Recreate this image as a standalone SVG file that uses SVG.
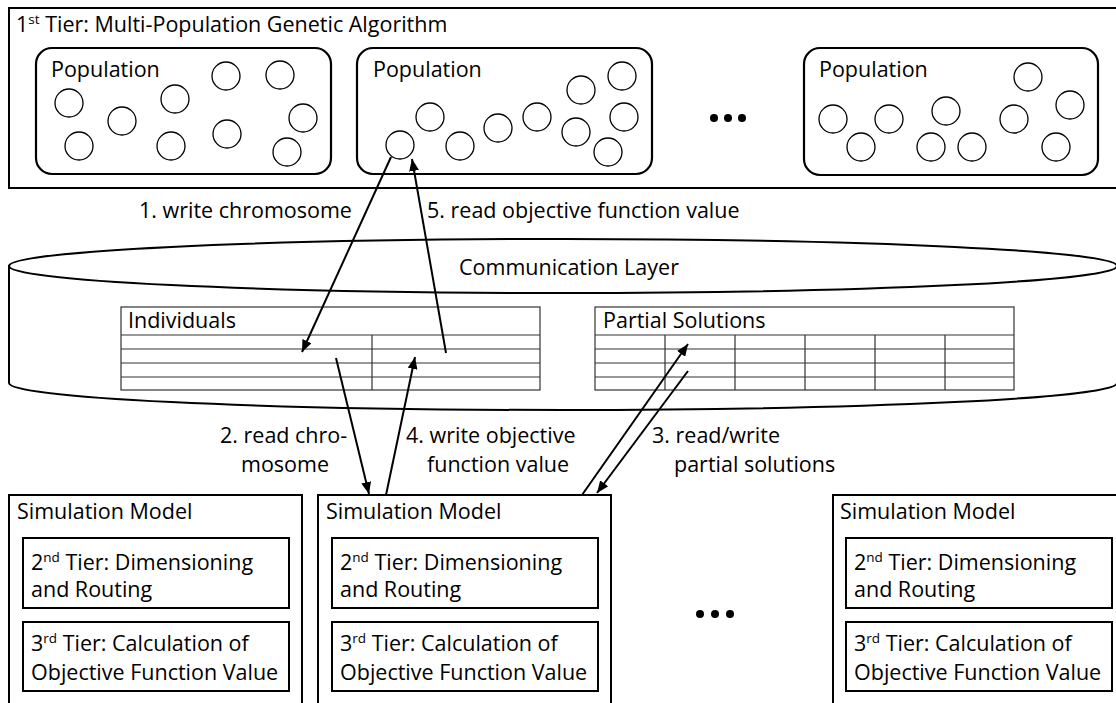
<svg xmlns="http://www.w3.org/2000/svg" width="1116" height="703" viewBox="0 0 1116 703">
<defs>
<marker id="ah" viewBox="0 0 12 10" refX="12" refY="5" markerWidth="12" markerHeight="10" markerUnits="userSpaceOnUse" orient="auto">
<path d="M0,0 L12,5 L0,10 z" fill="#000"/>
</marker>
</defs>
<style>
text{font-family:"Open Sans","Noto Sans","Liberation Sans",sans-serif;font-size:21.5px;fill:#000}
.box{fill:#fff;stroke:#000;stroke-width:2}
.pop{fill:none;stroke:#000;stroke-width:2.2}
.ind{fill:none;stroke:#000;stroke-width:1.3}
.tbl{fill:none;stroke:#333;stroke-width:1.2}
.cyl{fill:#fff;stroke:#000;stroke-width:2}
.con{fill:none;stroke:#000;stroke-width:2;marker-end:url(#ah)}
.sup{font-size:13.5px}
</style>
<rect width="1116" height="703" fill="#fff"/>

<g id="tier1">
<rect class="box" x="9" y="8" width="1112" height="180"/>
<text x="16" y="32">1<tspan class="sup" dy="-8">st</tspan><tspan dy="8"> Tier: Multi-Population Genetic Algorithm</tspan></text>
</g>

<g id="population1">
<rect class="pop" x="36" y="48" width="295" height="126" rx="16"/>
<text x="51" y="77">Population</text>
<circle class="ind" cx="69" cy="103" r="14"/>
<circle class="ind" cx="79" cy="146" r="14"/>
<circle class="ind" cx="122" cy="121" r="14"/>
<circle class="ind" cx="175" cy="99" r="14"/>
<circle class="ind" cx="171" cy="146" r="14"/>
<circle class="ind" cx="226" cy="76" r="14"/>
<circle class="ind" cx="227" cy="134" r="14"/>
<circle class="ind" cx="280" cy="75" r="14"/>
<circle class="ind" cx="303" cy="118" r="14"/>
<circle class="ind" cx="287" cy="152" r="14"/>
</g>

<g id="population2">
<rect class="pop" x="357" y="48" width="295" height="126" rx="16"/>
<text x="373" y="77">Population</text>
<circle class="ind" cx="400" cy="145" r="14"/>
<circle class="ind" cx="430" cy="117" r="14"/>
<circle class="ind" cx="460" cy="146" r="14"/>
<circle class="ind" cx="498" cy="128" r="14"/>
<circle class="ind" cx="537" cy="117" r="14"/>
<circle class="ind" cx="581" cy="90" r="14"/>
<circle class="ind" cx="622" cy="76" r="14"/>
<circle class="ind" cx="624" cy="117" r="14"/>
<circle class="ind" cx="576" cy="132" r="14"/>
<circle class="ind" cx="608" cy="152" r="14"/>
</g>

<g id="dots-top">
<circle cx="714" cy="118" r="4"/>
<circle cx="728" cy="118" r="4"/>
<circle cx="742" cy="118" r="4"/>
</g>

<g id="population3">
<rect class="pop" x="804" y="48" width="294" height="127" rx="16"/>
<text x="819" y="77">Population</text>
<circle class="ind" cx="833" cy="119" r="14"/>
<circle class="ind" cx="889" cy="119" r="14"/>
<circle class="ind" cx="861" cy="147" r="14"/>
<circle class="ind" cx="946" cy="111" r="14"/>
<circle class="ind" cx="931" cy="147" r="14"/>
<circle class="ind" cx="972" cy="147" r="14"/>
<circle class="ind" cx="1014" cy="119" r="14"/>
<circle class="ind" cx="1028" cy="77" r="14"/>
<circle class="ind" cx="1070" cy="105" r="14"/>
<circle class="ind" cx="1056" cy="147" r="14"/>
</g>

<g id="communication-layer">
<path class="cyl" d="M9,266 L9,383 A554,27 0 0 0 1117,383 L1117,266 Z"/>
<ellipse class="cyl" cx="563" cy="266" rx="554" ry="27"/>
<text x="459" y="275">Communication Layer</text>
</g>

<g id="individuals">
<rect class="tbl" x="121" y="307" width="419" height="83"/>
<text x="128" y="328">Individuals</text>
<path class="tbl" d="M121,335 H540 M121,349 H540 M121,363 H540 M121,377 H540 M372,335 V390"/>
</g>

<g id="partial-solutions">
<rect class="tbl" x="595" y="307" width="419" height="83"/>
<text x="603" y="328">Partial Solutions</text>
<path class="tbl" d="M595,335 H1014 M595,349 H1014 M595,363 H1014 M595,377 H1014 M665,335 V390 M735,335 V390 M805,335 V390 M875,335 V390 M945,335 V390"/>
</g>

<g id="sim1">
<rect class="box" x="9" y="495" width="293" height="222"/>
<text x="17" y="519">Simulation Model</text>
<rect class="box" x="23" y="538" width="266" height="70"/>
<text x="31" y="570">2<tspan class="sup" dy="-8">nd</tspan><tspan dy="8"> Tier: Dimensioning</tspan></text>
<text x="31" y="597">and Routing</text>
<rect class="box" x="23" y="622" width="266" height="69"/>
<text x="31" y="651">3<tspan class="sup" dy="-8">rd</tspan><tspan dy="8"> Tier: Calculation of</tspan></text>
<text x="31" y="680">Objective Function Value</text>
</g>

<g id="sim2">
<rect class="box" x="318" y="495" width="293" height="222"/>
<text x="326" y="519">Simulation Model</text>
<rect class="box" x="332" y="538" width="266" height="70"/>
<text x="340" y="570">2<tspan class="sup" dy="-8">nd</tspan><tspan dy="8"> Tier: Dimensioning</tspan></text>
<text x="340" y="597">and Routing</text>
<rect class="box" x="332" y="622" width="266" height="69"/>
<text x="340" y="651">3<tspan class="sup" dy="-8">rd</tspan><tspan dy="8"> Tier: Calculation of</tspan></text>
<text x="340" y="680">Objective Function Value</text>
</g>

<g id="dots-bottom">
<circle cx="700" cy="614" r="4"/>
<circle cx="715" cy="614" r="4"/>
<circle cx="730" cy="614" r="4"/>
</g>

<g id="sim3">
<rect class="box" x="833" y="495" width="290" height="222"/>
<text x="840" y="519">Simulation Model</text>
<rect class="box" x="846" y="538" width="266" height="70"/>
<text x="854" y="570">2<tspan class="sup" dy="-8">nd</tspan><tspan dy="8"> Tier: Dimensioning</tspan></text>
<text x="854" y="597">and Routing</text>
<rect class="box" x="846" y="622" width="266" height="69"/>
<text x="854" y="651">3<tspan class="sup" dy="-8">rd</tspan><tspan dy="8"> Tier: Calculation of</tspan></text>
<text x="854" y="680">Objective Function Value</text>
</g>

<g id="connectors">
<line class="con" x1="391" y1="157" x2="302" y2="352"/>
<line class="con" x1="446" y1="353" x2="412" y2="159"/>
<line class="con" x1="336" y1="358" x2="369" y2="494"/>
<line class="con" x1="386" y1="495" x2="415" y2="357"/>
<line class="con" x1="582" y1="495" x2="688" y2="344"/>
<line class="con" x1="688" y1="371" x2="597" y2="493"/>
<text x="139" y="218">1. write chromosome</text>
<text x="427" y="218">5. read objective function value</text>
<text x="220" y="443">2. read chro-</text>
<text x="241" y="472">mosome</text>
<text x="406" y="443">4. write objective</text>
<text x="427" y="472">function value</text>
<text x="652" y="443">3. read/write</text>
<text x="674" y="472">partial solutions</text>
</g>
</svg>
